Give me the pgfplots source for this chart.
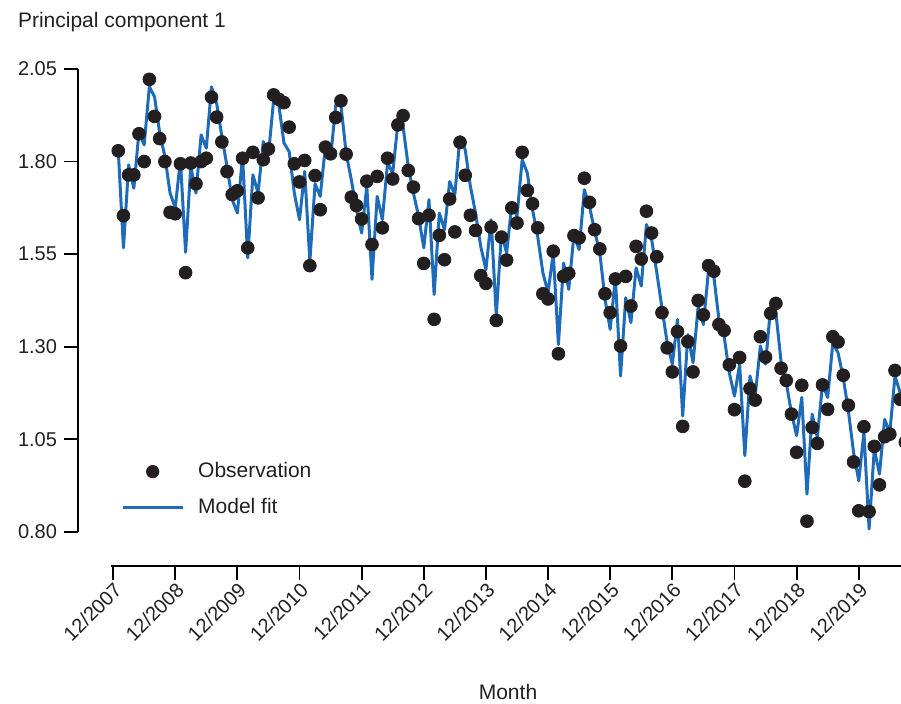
\documentclass[border=0pt]{standalone}
\usepackage{pgfplots}
\pgfplotsset{compat=1.18}
\usepackage{pgfplotstable}
\usepackage{fontspec}
\setmainfont{Liberation Sans}
\definecolor{fitblue}{RGB}{30,108,185}
\definecolor{dotblack}{RGB}{35,31,32}

% t = months after 12/2007
\pgfplotstableread{
t obs fit
1 1.829 1.829
2 1.654 1.567
3 1.764 1.791
4 1.764 1.728
5 1.875 1.881
6 1.800 1.845
7 2.022 2.002
8 1.922 1.975
9 1.862 1.877
10 1.800 1.814
11 1.663 1.715
12 1.659 1.675
13 1.794 1.805
14 1.500 1.555
15 1.796 1.787
16 1.740 1.715
17 1.800 1.872
18 1.809 1.836
19 1.974 2.002
20 1.920 1.957
21 1.853 1.868
22 1.773 1.787
23 1.711 1.697
24 1.721 1.661
25 1.809 1.814
26 1.567 1.540
27 1.825 1.764
28 1.702 1.715
29 1.805 1.854
30 1.834 1.818
31 1.980 1.967
32 1.968 1.953
33 1.959 1.850
34 1.893 1.827
35 1.794 1.715
36 1.745 1.643
37 1.803 1.773
38 1.519 1.531
39 1.762 1.740
40 1.670 1.706
41 1.839 1.841
42 1.821 1.809
43 1.919 1.953
44 1.964 1.953
45 1.820 1.823
46 1.704 1.751
47 1.681 1.670
48 1.645 1.607
49 1.747 1.733
50 1.576 1.482
51 1.760 1.706
52 1.621 1.643
53 1.809 1.796
54 1.753 1.769
55 1.899 1.904
56 1.924 1.895
57 1.776 1.787
58 1.731 1.715
59 1.646 1.652
60 1.525 1.567
61 1.655 1.697
62 1.374 1.441
63 1.601 1.661
64 1.535 1.616
65 1.699 1.746
66 1.610 1.711
67 1.852 1.868
68 1.763 1.832
69 1.655 1.733
70 1.614 1.661
71 1.492 1.571
72 1.471 1.508
73 1.623 1.643
74 1.371 1.383
75 1.596 1.607
76 1.534 1.553
77 1.675 1.684
78 1.634 1.652
79 1.825 1.805
80 1.722 1.769
81 1.686 1.670
82 1.621 1.598
83 1.443 1.500
84 1.429 1.446
85 1.558 1.553
86 1.281 1.306
87 1.490 1.526
88 1.498 1.455
89 1.600 1.603
90 1.594 1.562
91 1.755 1.724
92 1.690 1.679
93 1.616 1.612
94 1.564 1.553
95 1.443 1.428
96 1.392 1.347
97 1.483 1.486
98 1.302 1.221
99 1.490 1.432
100 1.410 1.365
101 1.571 1.513
102 1.537 1.464
103 1.666 1.630
104 1.607 1.590
105 1.543 1.500
106 1.392 1.405
107 1.297 1.311
108 1.232 1.253
109 1.341 1.374
110 1.085 1.113
111 1.314 1.333
112 1.232 1.257
113 1.425 1.410
114 1.386 1.360
115 1.519 1.509
116 1.504 1.491
117 1.360 1.374
118 1.344 1.329
119 1.251 1.230
120 1.130 1.167
121 1.271 1.253
122 0.937 1.006
123 1.187 1.221
124 1.156 1.167
125 1.327 1.302
126 1.272 1.253
127 1.390 1.410
128 1.417 1.392
129 1.242 1.260
130 1.209 1.203
131 1.118 1.122
132 1.015 1.060
133 1.196 1.163
134 0.829 0.902
135 1.082 1.118
136 1.039 1.055
137 1.197 1.199
138 1.131 1.163
139 1.327 1.311
140 1.313 1.284
141 1.223 1.217
142 1.142 1.127
143 0.989 1.015
144 0.857 0.938
145 1.084 1.068
146 0.855 0.808
147 1.031 1.024
148 0.927 0.956
149 1.057 1.104
150 1.064 1.068
151 1.236 1.221
152 1.158 1.176
153 1.042 1.100
}\pcdata

\begin{document}
\begin{tikzpicture}
\useasboundingbox (-39pt,-69pt) rectangle (411.5pt,283pt);
\begin{axis}[
    scale only axis,
    width=411.5pt, height=248.5pt,
    xmin=-6.78, xmax=152.16,
    ymin=0.708, ymax=2.05,
    clip=false,
    axis line style={draw=none},
    tick align=outside,
    xtick pos=left, ytick pos=left,
    major tick length=7pt,
    tick style={line width=0.9pt, black},
    xtick={0,12,...,144},
    xticklabels={12/2007,12/2008,12/2009,12/2010,12/2011,12/2012,12/2013,12/2014,12/2015,12/2016,12/2017,12/2018,12/2019},
    ytick={0.80,1.05,1.30,1.55,1.80,2.05},
    /pgf/number format/assume math mode=true,
    yticklabel style={/pgf/number format/.cd, fixed, fixed zerofill, precision=2},
    tick label style={font=\fontsize{10}{12}\selectfont, text=dotblack},
    xticklabel style={rotate=45, anchor=east, xshift=3pt, yshift=-4pt},
    reverse legend,
    legend cell align=left,
    legend style={draw=none, fill=none, inner sep=0pt,
        nodes={inner sep=0pt},
        at={(0.052,0.209)}, anchor=north west,
        row sep=9pt, column sep=7pt,
        font=\fontsize{10.5}{12.6}\selectfont, text=dotblack},
]
\addplot[fitblue, line width=1.5pt, line join=round,
    legend image code/.code={\draw[fitblue, line width=1.5pt] (0pt,0pt) -- (30pt,0pt);}]
    table[x=t, y=fit] {\pcdata};
\addlegendentry{Model fit}
\addplot[only marks, mark=*, mark size=3.2pt,
    mark options={fill=dotblack, draw=dotblack},
    legend image code/.code={\draw[mark=*, mark size=3.1pt, fill=dotblack, draw=dotblack] plot coordinates {(15pt,0pt)};}]
    table[x=t, y=obs] {\pcdata};
\addlegendentry{Observation}
\draw[line width=0.9pt, black] (axis cs:-6.78,0.80) -- (axis cs:-6.78,2.05);
\draw[line width=0.9pt, black] (axis cs:-0.46,0.708) -- (axis cs:152.16,0.708);
\end{axis}
\node[anchor=base west, font=\fontsize{10.5}{12.6}\selectfont, text=dotblack] at (-33.5pt,269pt) {Principal component 1};
\node[anchor=base, font=\fontsize{10.5}{12.6}\selectfont, text=dotblack] at (215pt,-67pt) {Month};
\end{tikzpicture}
\end{document}
